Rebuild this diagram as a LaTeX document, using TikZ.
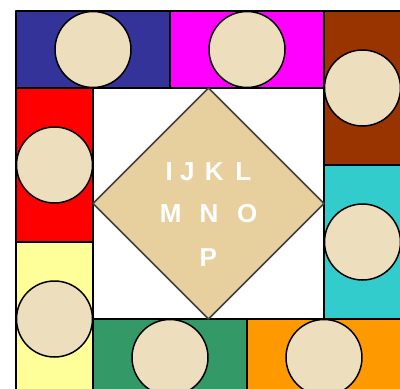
\documentclass[tikz,border=0pt]{standalone}
\usepackage{fontspec}
\setmainfont{Liberation Sans}
\definecolor{boardblue}{RGB}{51,51,153}
\definecolor{boardmagenta}{RGB}{255,0,255}
\definecolor{boardbrown}{RGB}{153,51,0}
\definecolor{boardcyan}{RGB}{51,204,204}
\definecolor{boardorange}{RGB}{255,153,0}
\definecolor{boardgreen}{RGB}{51,153,102}
\definecolor{boardyellow}{RGB}{255,255,153}
\definecolor{boardred}{RGB}{255,0,0}
\definecolor{tokenbeige}{RGB}{237,223,190}
\definecolor{papyrus}{RGB}{232,208,158}
\definecolor{diamondedge}{RGB}{64,64,64}
\begin{document}
\begin{tikzpicture}[x=1pt, y=-1pt, line join=round,
  cell/.style={draw=black, line width=1.5pt},
  token/.style={draw=black, line width=1.5pt, fill=tokenbeige},
  letter/.style={anchor=base, inner sep=0pt, text=white,
    font=\fontsize{26}{30}\selectfont\bfseries}]
  % Page frame, cropped as in the reference.
  \useasboundingbox (0,0) rectangle (400,389);
  \clip (0,0) rectangle (400,389);

  % Board cells: left, top, right, bottom, colour.
  \def\BoardCells{16/11/170/88/boardblue, 170/11/324/88/boardmagenta,
    324/11/401/165/boardbrown, 324/165/401/319/boardcyan,
    247/319/401/396/boardorange, 93/319/247/396/boardgreen,
    16/242/93/396/boardyellow, 16/88/93/242/boardred}

  % Centre square and diamond.
  \coordinate (Dtop) at (208.5,88);
  \coordinate (Dright) at (324,203.5);
  \coordinate (Dbot) at (208.5,319);
  \coordinate (Dleft) at (93,203.5);
  \draw[gray!60, line width=1pt, fill=white] (93,88) rectangle (324,319);

  \foreach \xa/\ya/\xb/\yb/\col in \BoardCells {
    \draw[cell, fill=\col] (\xa,\ya) rectangle (\xb,\yb);
  }

  % One token in the middle of each cell.
  \foreach \xa/\ya/\xb/\yb/\col in \BoardCells {
    \draw[token] ({(\xa+\xb)/2},{(\ya+\yb)/2}) circle[radius=38pt];
  }

  \draw[diamondedge, line width=1.5pt, fill=papyrus]
    (Dtop) -- (Dright) -- (Dbot) -- (Dleft) -- cycle;

  % Letters on the diamond.
  \foreach \ch/\x/\y in {I/169.2/180, J/187.3/180, K/214.2/180, L/243.3/180,
    M/170.8/222.7, N/209/222.7, O/247.3/222.7, P/208.3/266} {
    \node[letter] (let\ch) at (\x,\y) {\ch};
  }
\end{tikzpicture}
\end{document}
